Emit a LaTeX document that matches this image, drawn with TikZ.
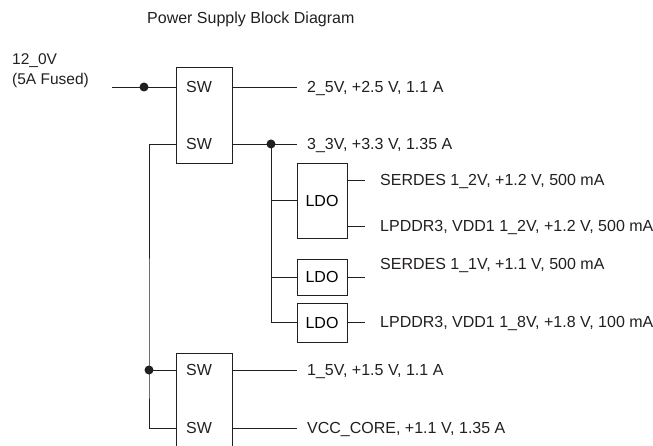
\documentclass[tikz,border=0pt]{standalone}
\usepackage{fontspec}
\setmainfont{Liberation Sans}
\definecolor{clrWire}{HTML}{231F20}
\tikzset{
  block/.style = {rectangle, draw=clrWire, line width=0.9pt, minimum width=#1, inner sep=0pt,
                  font=\fontsize{16}{19}\selectfont, text height=11.5pt, text depth=0pt},
  block/.default = 56pt,
  wire/.style = {draw=clrWire, line width=0.9pt},
  dot/.style = {circle, fill=clrWire, inner sep=0pt, minimum size=9pt},
}

\begin{document}
\begin{tikzpicture}[x=1pt, y=-1pt,
  tag/.style = {anchor=west, inner sep=0pt, font=\fontsize{16}{19}\selectfont,
                text height=11.5pt, text depth=0pt, text=clrWire},
  rail/.style = {tag, inner xsep=#1},
  rail/.default = 10pt,
  heading/.style = {anchor=west, inner sep=0pt, font=\fontsize{16}{19}\selectfont,
                    text height=11.5pt, text depth=0pt, text=clrWire},
]
\useasboundingbox (0,0) rectangle (653,446);

% Title and input
\node[heading] (title) at (147,18) {Power Supply Block Diagram};
\node[anchor=north west, inner sep=0pt, align=left, text=clrWire,
      font=\fontsize{15.5}{20}\selectfont] (vinlbl) at (12,53.5) {12\_0V\\(5A Fused)};
\coordinate (vin) at (112,87);

% Switchers, upper pair
\node[block, minimum height=96pt] (swTop) at (204,115) {};
\node[tag] (swA) at (186,87) {SW};
\node[tag] (swB) at (186,144) {SW};

% Switchers, lower pair
\node[block, minimum height=96pt] (swBot) at (204,401) {};
\node[tag] (swC) at (186,370) {SW};
\node[tag] (swD) at (186,428) {SW};

% LDOs on 3_3V
\node[block=50pt, minimum height=75pt] (ldoA) at (322,200.5) {LDO};
\node[block=50pt, minimum height=36pt] (ldoB) at (322,277) {LDO};
\node[block=50pt, minimum height=39pt] (ldoC) at (322,322.5) {LDO};

% Rails
\node[rail] (r25)  at (297,87)  {2\_5V, +2.5 V, 1.1 A};
\node[rail] (r33)  at (297,144) {3\_3V, +3.3 V, 1.35 A};
\node[rail=15pt] (r12s) at (365,180) {SERDES 1\_2V, +1.2 V, 500 mA};
\node[rail=15pt] (r12d) at (365,226) {LPDDR3, VDD1 1\_2V, +1.2 V, 500 mA};
\node[rail=15pt] (r11s) at (365,264) {SERDES 1\_1V, +1.1 V, 500 mA};
\coordinate (r11end) at (365,277);
\node[rail=15pt] (r18d) at (365,322) {LPDDR3, VDD1 1\_8V, +1.8 V, 100 mA};
\node[rail] (r15)  at (297,370) {1\_5V, +1.5 V, 1.1 A};
\node[rail] (rcore) at (297,428) {VCC\_CORE, +1.1 V, 1.35 A};

% Junctions
\node[dot] (j1) at (144,87) {};
\node[dot] (j2) at (271,144) {};
\node[dot] (j3) at (149,370) {};

% Wiring
\draw[wire] (vin) -- (swTop.west |- swA);
\draw[wire] (swTop.west |- swB) -| (j3.center) |- (swBot.west |- swD);
\draw[wire] (j3.center) -- (swBot.west |- swC);
\draw[wire] (swTop.east |- swA) -- (r25.west);
\draw[wire] (swTop.east |- swB) -- (r33.west);
\draw[wire] (j2.center) |- (ldoC.west);
\draw[wire] (j2.center |- ldoA.west) -- (ldoA.west);
\draw[wire] (j2.center |- ldoB.west) -- (ldoB.west);
\draw[wire] (ldoA.east |- r12s) -- (r12s.west);
\draw[wire] (ldoA.east |- r12d) -- (r12d.west);
\draw[wire] (ldoB.east) -- (r11end);
\draw[wire] (ldoC.east |- r18d) -- (r18d.west);
\draw[wire] (swBot.east |- swC) -- (r15.west);
\draw[wire] (swBot.east |- swD) -- (rcore.west);
\end{tikzpicture}
\end{document}
